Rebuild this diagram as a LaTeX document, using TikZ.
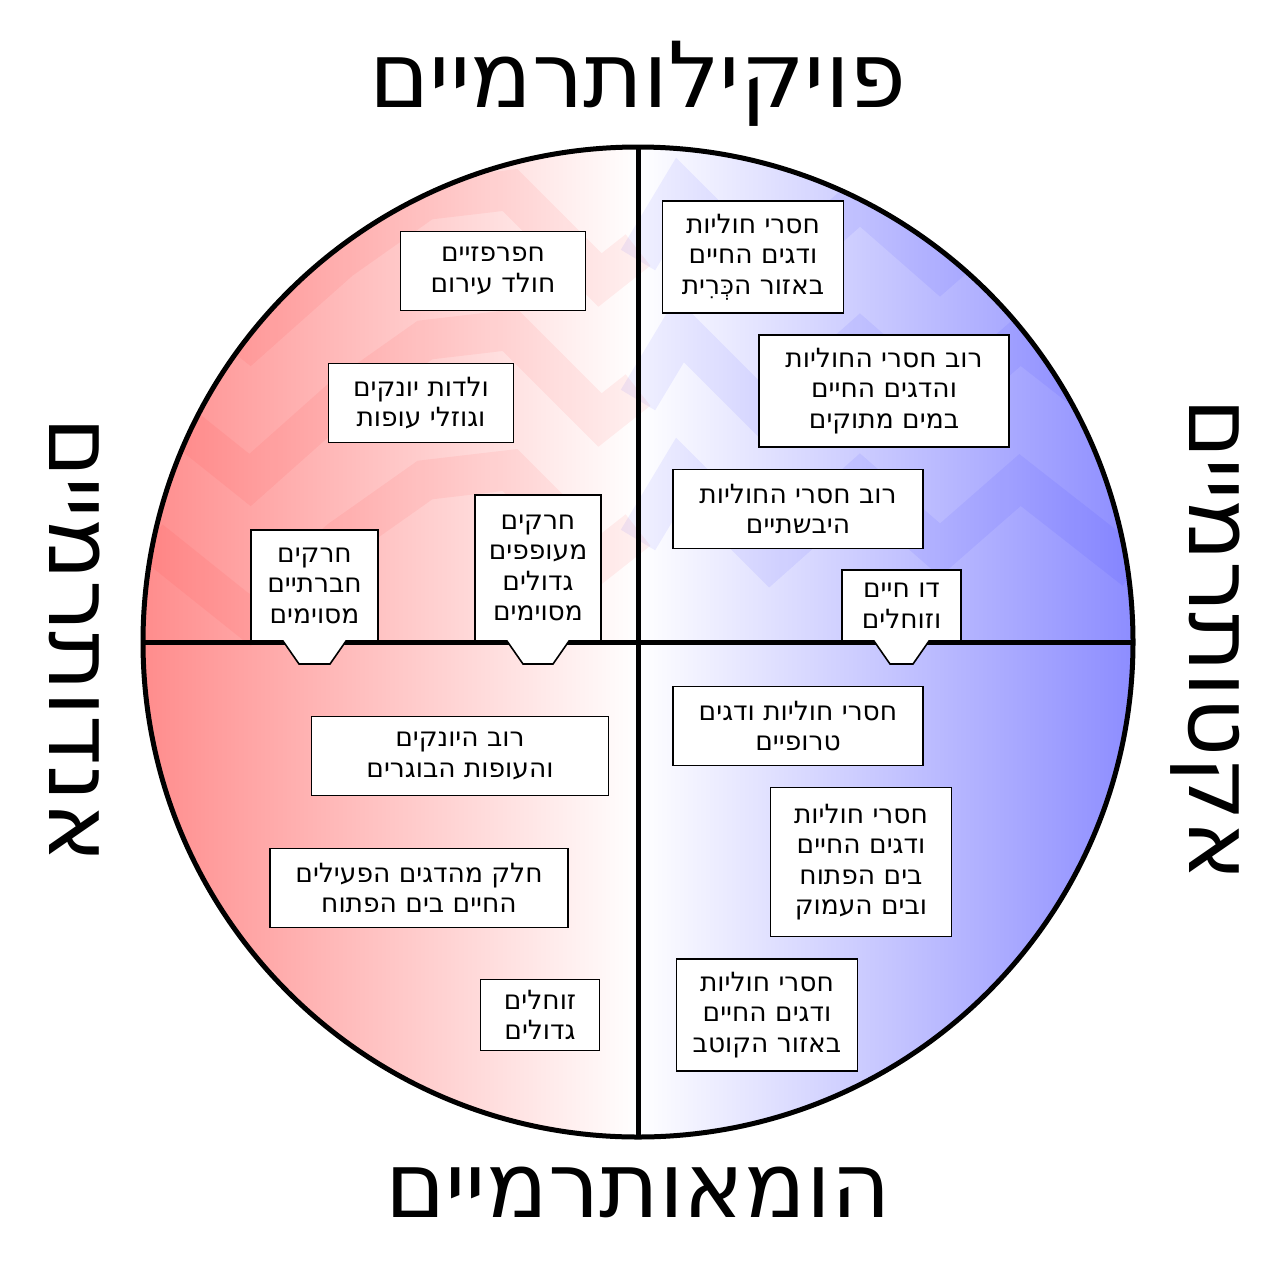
\documentclass[tikz,border=0pt]{standalone}
\usepackage{fontspec}
\newfontfamily\heb[Script=Hebrew]{DejaVu Sans}
\TeXXeTstate=1
\newcommand\rl[1]{\beginR #1\endR}
\begin{document}
\begin{tikzpicture}[x=1pt,y=-1pt,
 box/.style={draw,fill=white,line width=1.6pt,inner sep=0pt,align=center,font=\heb\fontsize{26.5}{30.5}\selectfont},
 big/.style={font=\heb\fontsize{91}{95}\selectfont},
 zz/.style={line width=40pt,opacity=0.06,line join=miter}]
\useasboundingbox (0,0) rectangle (1280,1280);
\begin{scope}
\clip (638,642) circle (495);
\shade[left color=red!45,right color=white] (143,140) rectangle (638,1140);
\shade[left color=white,right color=blue!45] (638,140) rectangle (1135,1140);
\foreach \y in {0,140,280}{
 \draw[zz,red] (150,260+\y)--(250,340+\y)--(340,260+\y)--(425,200+\y)--(510,190+\y)--(600,280+\y)--(638,250+\y);
 \draw[zz,blue] (638,260+\y)--(680,190+\y)--(770,280+\y)--(860,200+\y)--(940,270+\y)--(1020,200+\y)--(1135,290+\y);}
\end{scope}
\draw[line width=5pt] (638,642) circle (495);
\coordinate (T) at (638,147); \coordinate (B) at (638,1135);
\coordinate (L) at (143,642); \coordinate (Rr) at (1133,642);
\draw[line width=5pt] (T)--(B) (L)--(Rr);
\node[big] (top) at (638,84) {\rl{פויקילותרמיים}};
\node[big] (bot) at (638,1192) {\rl{הומאותרמיים}};
\node[big,rotate=-90] (lft) at (75,640) {\rl{אנדותרמיים}};
\node[big,rotate=-90] (rgt) at (1205,640) {\rl{אקטותרמיים}};
\newcommand\bx[6]{\node[box,minimum width=#3pt,minimum height=#4pt] (#5) at (#1,#2) {#6};}
\bx{493}{271}{185}{79}{b1}{\rl{חפרפזיים}\\\rl{חולד עירום}}
\bx{421}{403}{185}{79}{b2}{\rl{ולדות יונקים}\\\rl{וגוזלי עופות}}
\bx{753}{257}{181}{112}{b5}{\rl{חסרי חוליות}\\\rl{ודגים החיים}\\\rl{באזור הכְּרִית}}
\bx{884}{391}{250}{112}{b6}{\rl{רוב חסרי החוליות}\\\rl{והדגים החיים}\\\rl{במים מתוקים}}
\bx{798}{509}{250}{79}{b7}{\rl{רוב חסרי החוליות}\\\rl{היבשתיים}}
\bx{798}{726}{250}{79}{b9}{\rl{חסרי חוליות ודגים}\\\rl{טרופיים}}
\bx{861}{862}{181}{149}{b10}{\rl{חסרי חוליות}\\\rl{ודגים החיים}\\\rl{בים הפתוח}\\\rl{ובים העמוק}}
\bx{767}{1015}{181}{112}{b11}{\rl{חסרי חוליות}\\\rl{ודגים החיים}\\\rl{באזור הקוטב}}
\bx{460}{756}{297}{79}{b12}{\rl{רוב היונקים}\\\rl{והעופות הבוגרים}}
\bx{419}{888}{298}{79}{b13}{\rl{חלק מהדגים הפעילים}\\\rl{החיים בים הפתוח}}
\bx{540}{1015}{119}{71}{b14}{\rl{זוחלים}\\\rl{גדולים}}
\newcommand\tab[8]{%
 \filldraw[fill=white,line width=1.6pt] (#1,#3)--(#2,#3)--(#2,#4)--(#2-32,#4)--(#2-48,664)--(#1+48,664)--(#1+32,#4)--(#1,#4)--cycle;
 \node[box,draw=none,fill=none] (#7) at ({(#1+#2)/2},{(#3+#4)/2}) {#8};}
\tab{251}{378}{530}{641}{}{}{b3}{\rl{חרקים}\\\rl{חברתיים}\\\rl{מסוימים}}
\tab{475}{601}{495}{641}{}{}{b4}{\rl{חרקים}\\\rl{מעופפים}\\\rl{גדולים}\\\rl{מסוימים}}
\tab{842}{961}{570}{641}{}{}{b8}{\rl{דו חיים}\\\rl{וזוחלים}}
\end{tikzpicture}
\end{document}
